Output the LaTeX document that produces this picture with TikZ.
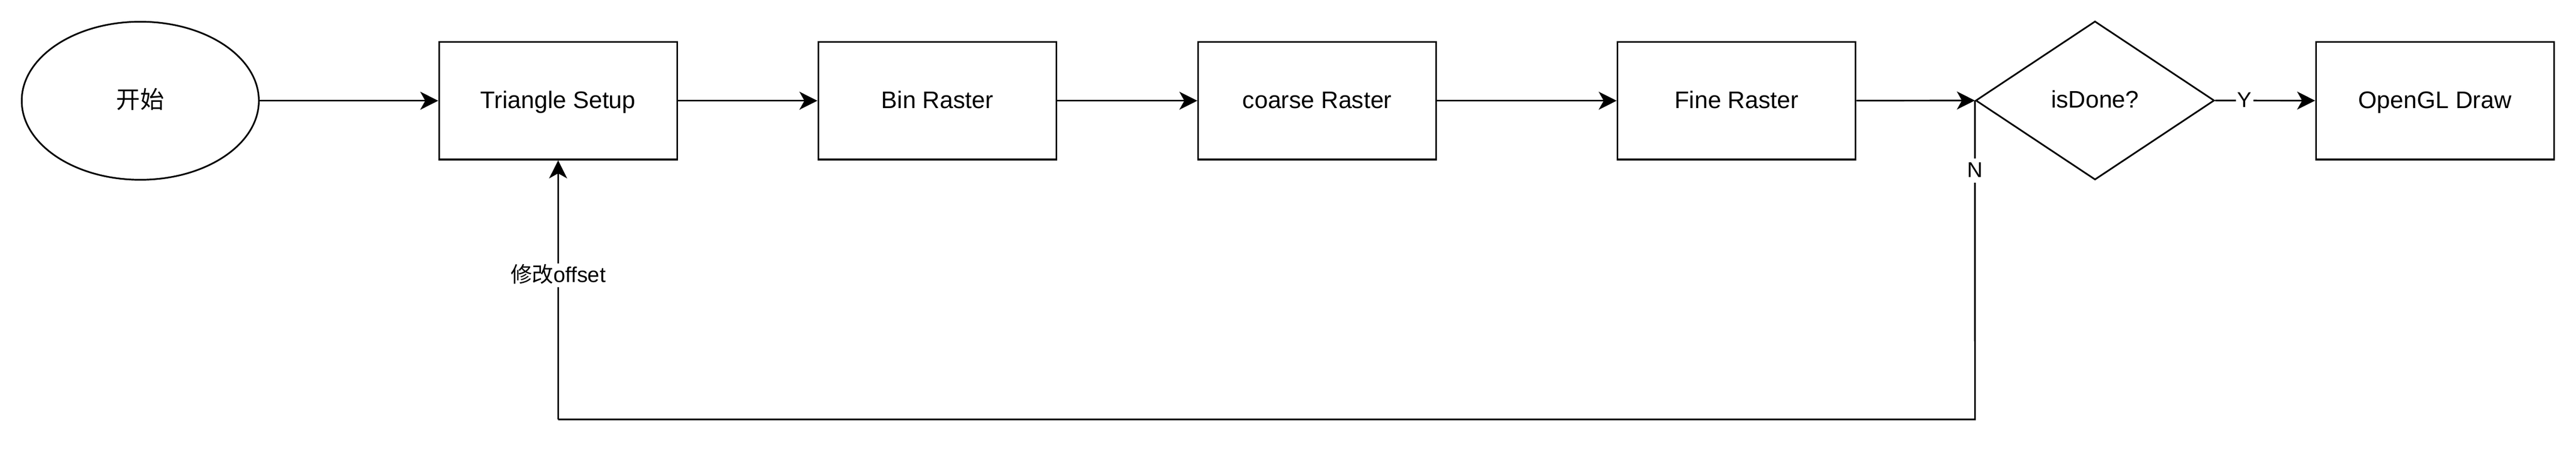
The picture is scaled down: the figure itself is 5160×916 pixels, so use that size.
\documentclass[tikz,border=0pt]{standalone}
\usepackage{fontspec}
\setmainfont{Liberation Sans}
\newfontfamily\cjk{Noto Sans CJK SC}
\usetikzlibrary{shapes.geometric,arrows.meta}
\begin{document}
\begin{tikzpicture}[x=1pt,y=-1pt,
  every node/.style={font=\fontsize{48}{58}\selectfont,text height=38.4pt,text depth=8.6pt},
  box/.style={draw,line width=3.3pt,rectangle,minimum width=477pt,minimum height=236pt,inner sep=0pt},
  startshape/.style={draw,line width=3.3pt,ellipse,minimum width=475pt,minimum height=317pt,inner sep=0pt},
  decshape/.style={draw,line width=3.3pt,diamond,minimum width=478pt,minimum height=318pt,inner sep=0pt},
  arr/.style={line width=3.3pt,-{Stealth[length=36pt,width=36pt,inset=10pt]}},
  lbl/.style={font=\fontsize{43}{52}\selectfont,text height=34.4pt,text depth=7.7pt,fill=white,inner sep=3pt}
]
\useasboundingbox (0,0) rectangle (5160,916);
\node[startshape] (start) at (281,202) {\cjk 开始};
\node[box] (ts) at (1118,202) {Triangle Setup};
\node[box] (bin) at (1877.5,202) {Bin Raster};
\node[box] (coarse) at (2638.5,202) {coarse Raster};
\node[box] (fine) at (3478.5,202) {Fine Raster};
\node[decshape] (dec) at (4196.5,201.5) {isDone?};
\node[box] (gl) at (4877.5,202) {OpenGL Draw};
\coordinate (c1) at (3956,841);
\coordinate (c2) at (1118,841);
\draw[arr] (start) -- (ts);
\draw[arr] (ts) -- (bin);
\draw[arr] (bin) -- (coarse);
\draw[arr] (coarse) -- (fine);
\draw[arr] (fine) -- (dec.west);
\draw[arr] (dec.east) -- node[lbl,pos=0.295] (ylab) {Y} (gl);
\draw[line width=3.3pt] (dec.west) -- node[lbl,pos=0.22] (nlab) {N} (c1) -- (c2);
\draw[arr] (c2) -- node[lbl,pos=0.556] (olab) {{\cjk 修改}offset} (ts.south);
\end{tikzpicture}
\end{document}
